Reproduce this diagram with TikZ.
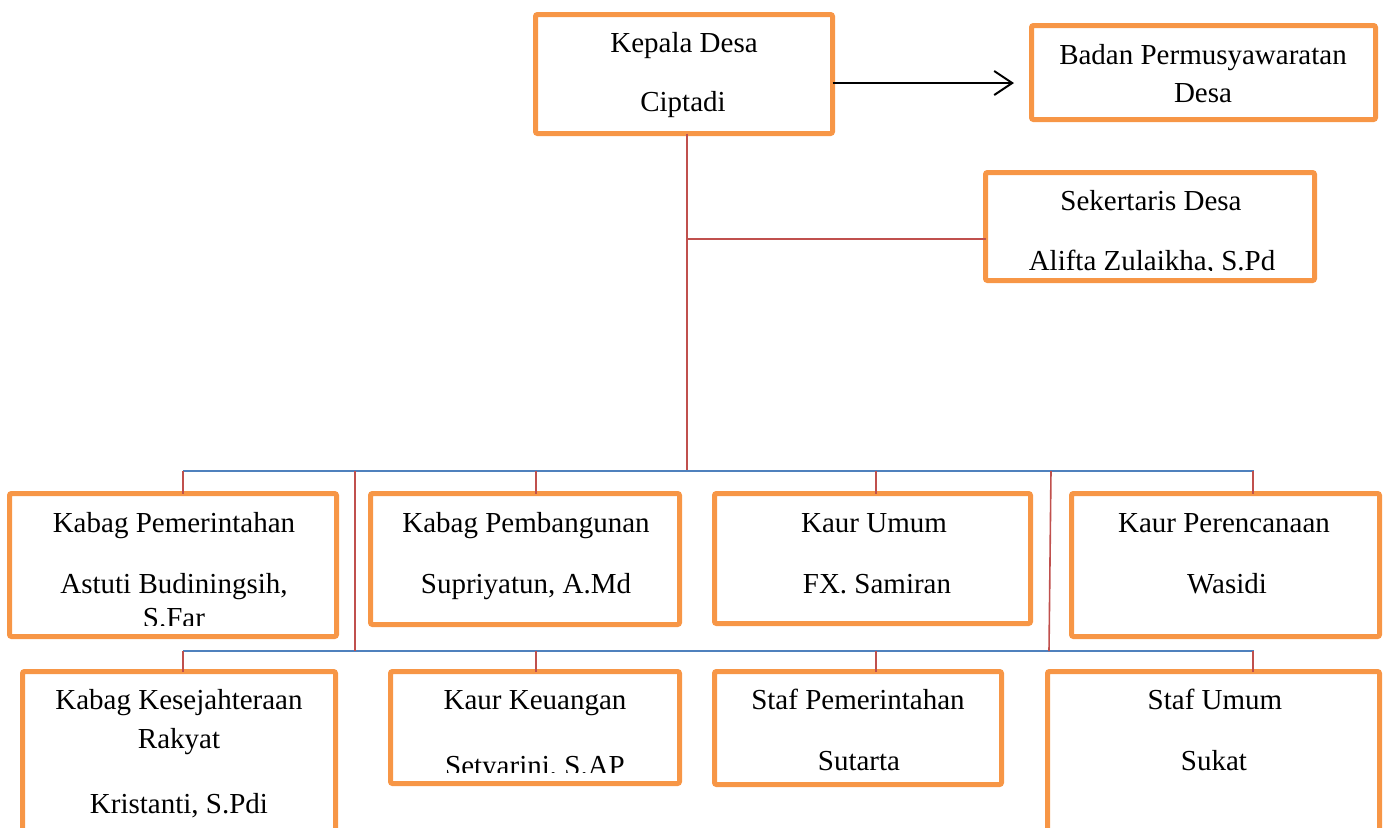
\documentclass[tikz,border=0pt]{standalone}
\usepackage{fontspec}
\setmainfont{Liberation Serif}
\usetikzlibrary{fit,arrows.meta}
\definecolor{orgb}{HTML}{F79646}
\definecolor{busblue}{HTML}{4F81BD}
\definecolor{linkred}{HTML}{C0504D}
\begin{document}
\begin{tikzpicture}[x=0.5pt,y=-0.5pt,
  box/.style={draw=orgb,line width=2.5pt,rounded corners=1pt,inner sep=0pt,outer sep=0pt,fit={#1}},
  txt/.style={anchor=base,inner sep=0pt,font=\fontsize{14.5pt}{17pt}\selectfont},
  bus/.style={draw=busblue,line width=1pt},
  link/.style={draw=linkred,line width=0.8pt},
  arr/.style={draw=black,line width=1pt,-{Straight Barb[length=9pt,width=12pt,line width=1pt]}}]
\clip (0,0) rectangle (1383,827);

% coordinates for connectors
\coordinate (ay) at (1014,83);
\coordinate (trunk) at (687,471);
\coordinate (skj) at (687,239);
\coordinate (b1l) at (183,471);
\coordinate (b1r) at (1254,471);
\coordinate (b2l) at (183,651);
\coordinate (b2r) at (1254,651);
\coordinate (v1t) at (355,471);
\coordinate (v1b) at (355,651);
\coordinate (v2t) at (1051,471);
\coordinate (v2b) at (1049,651);
\coordinate (x1) at (183,0);
\coordinate (x2) at (536,0);
\coordinate (x3) at (876,0);
\coordinate (x4) at (1253,0);

% boxes
\node[box={(535.5,14.5) (832.5,133.5)}] (kd) {};
\node[box={(1031.5,25.5) (1375.5,119.5)}] (bpd) {};
\node[box={(985.5,172.5) (1314.5,280.5)}] (sk) {};
\node[box={(9.5,493.5) (336.5,636.5)}] (kp) {};
\node[box={(370.5,493.5) (679.5,624.5)}] (kpb) {};
\node[box={(714.5,493.5) (1030.5,623.5)}] (ku) {};
\node[box={(1071.5,493.5) (1379.5,636.5)}] (kpr) {};
\node[box={(22.5,671.5) (335.5,880)}] (kks) {};
\node[box={(390.5,671.5) (679.5,783.5)}] (kk) {};
\node[box={(714.5,671.5) (1001.5,784.5)}] (sp) {};
\node[box={(1047.5,671.5) (1379.5,880)}] (su) {};

% connectors
\draw[arr] (kd.east |- ay) -- (ay);
\draw[link] (kd.south -| trunk) -- (trunk);
\draw[link] (skj) -- (skj -| sk.west);
\draw[bus] (b1l) -- (b1r);
\draw[bus] (b2l) -- (b2r);
\draw[link] (v1t) -- (v1b);
\draw[link] (v2t) -- (v2b);
\draw[link] (b1l -| x1) -- (kp.north -| x1);
\draw[link] (b1l -| x2) -- (kpb.north -| x2);
\draw[link] (b1l -| x3) -- (ku.north -| x3);
\draw[link] (b1l -| x4) -- (kpr.north -| x4);
\draw[link] (b2l -| x1) -- (kks.north -| x1);
\draw[link] (b2l -| x2) -- (kk.north -| x2);
\draw[link] (b2l -| x3) -- (sp.north -| x3);
\draw[link] (b2l -| x4) -- (su.north -| x4);

% texts
\node[txt] (kd1) at (684,52) {Kepala Desa};
\node[txt] (kd2) at (683,111) {Ciptadi};
\node[txt] (bpd1) at (1203,64) {Badan Permusyawaratan};
\node[txt] (bpd2) at (1203,102) {Desa};
\node[txt] (sk1) at (1151,210) {Sekertaris Desa};
\begin{scope}
\clip (990,240) rectangle (1310,270);
\node[txt] (sk2) at (1152,270) {Alifta Zulaikha, S.Pd};
\end{scope}
\node[txt] (kp1) at (174,532) {Kabag Pemerintahan};
\node[txt] (kp2) at (174,593) {Astuti Budiningsih,};
\begin{scope}
\clip (20,598) rectangle (330,625);
\node[txt] (kp3) at (174,627) {S.Far};
\end{scope}
\node[txt] (kpb1) at (526,532) {Kabag Pembangunan};
\node[txt] (kpb2) at (526,593) {Supriyatun, A.Md};
\node[txt] (ku1) at (874,532) {Kaur Umum};
\node[txt] (ku2) at (877,593) {FX. Samiran};
\node[txt] (kpr1) at (1224,532) {Kaur Perencanaan};
\node[txt] (kpr2) at (1227,593) {Wasidi};
\node[txt] (kks1) at (179,709) {Kabag Kesejahteraan};
\node[txt] (kks2) at (179,748) {Rakyat};
\node[txt] (kks3) at (179,813) {Kristanti, S.Pdi};
\node[txt] (kk1) at (535,709) {Kaur Keuangan};
\begin{scope}
\clip (395,740) rectangle (675,772);
\node[txt] (kk2) at (535,775) {Setyarini, S.AP};
\end{scope}
\node[txt] (sp1) at (858,709) {Staf Pemerintahan};
\node[txt] (sp2) at (859,770) {Sutarta};
\node[txt] (su1) at (1215,709) {Staf Umum};
\node[txt] (su2) at (1214,770) {Sukat};
\end{tikzpicture}
\end{document}
